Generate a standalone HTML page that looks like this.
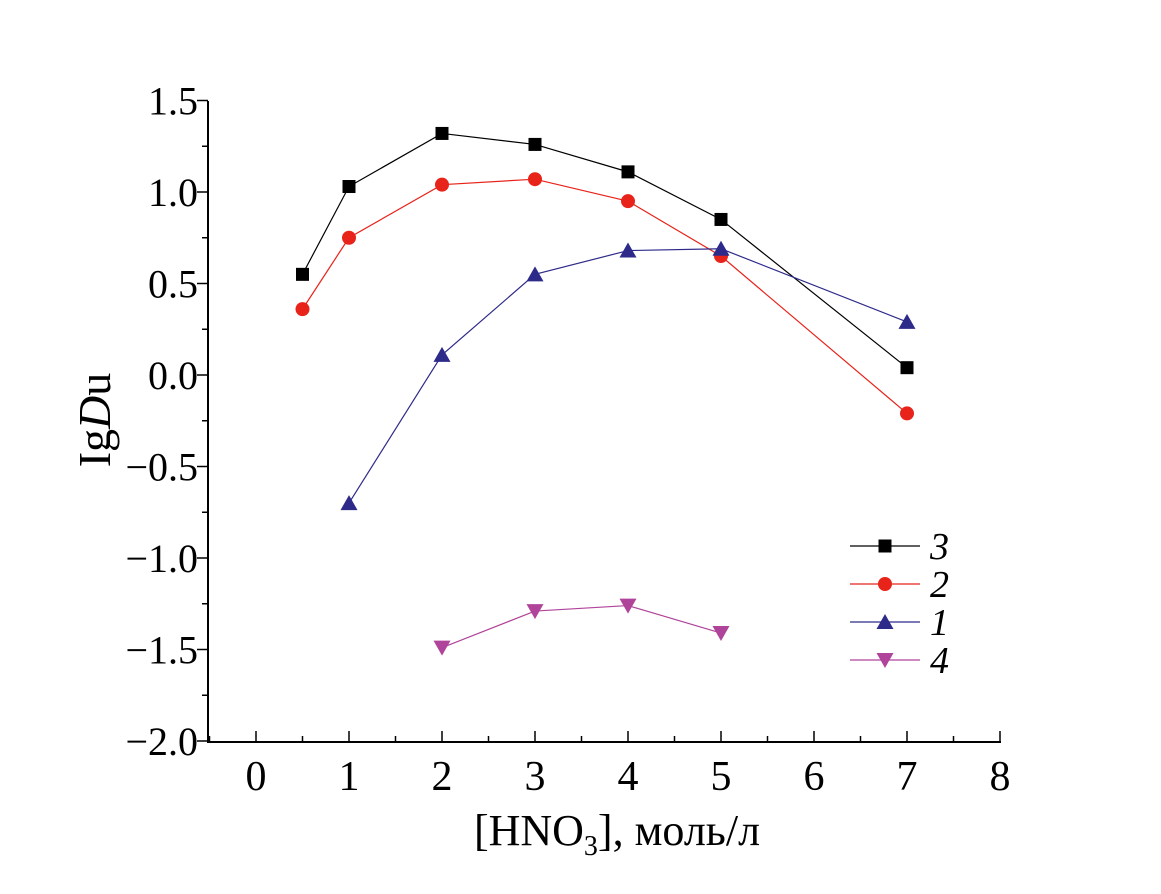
<!DOCTYPE html>
<html><head><meta charset="utf-8"><style>
html,body{margin:0;padding:0;background:#fff;}
svg text{font-family:"Liberation Serif","DejaVu Serif",serif;}
</style></head><body>
<svg id="chart" width="1161" height="889" xmlns="http://www.w3.org/2000/svg"></svg>
<script>
const xVals3=[0.5,1,2,3,4,5,7];
const yVals3=[0.55,1.03,1.32,1.26,1.11,0.85,0.04];
const xVals2=[0.5,1,2,3,4,5,7];
const yVals2=[0.36,0.75,1.04,1.07,0.95,0.65,-0.21];
const xVals1=[1,2,3,4,5,7];
const yVals1=[-0.70,0.11,0.55,0.68,0.69,0.29];
const xVals4=[2,3,4,5];
const yVals4=[-1.49,-1.29,-1.26,-1.41];
const xTicks=[0,1,2,3,4,5,6,7,8];
const yTicks=[1.5,1.0,0.5,0.0,-0.5,-1.0,-1.5,-2.0];
const yTickLabels=["1.5","1.0","0.5","0.0","\u22120.5","\u22121.0","\u22121.5","\u22122.0"];
const legendLabels=["3","2","1","4"];

const NS="http://www.w3.org/2000/svg";
const svg=document.getElementById('chart');
const X=v=>256+v*93;
const Y=v=>375-v*183;
function mk(t,a,p){const e=document.createElementNS(NS,t);for(const k in a)e.setAttribute(k,a[k]);(p||svg).appendChild(e);return e;}

let ax=mk('line',{x1:208,y1:101,x2:208,y2:742,stroke:'#000','stroke-width':2});


let bx=mk('line',{x1:207,y1:742,x2:1001,y2:742,stroke:'#000','stroke-width':2});


for(let v=-2;v<=1.5001;v+=0.25){
  const major=Math.abs(v*2-Math.round(v*2))<1e-6;
  mk('line',{x1:208,x2:208-(major?11:6),y1:Y(v),y2:Y(v),stroke:'#000','stroke-width':1.5});
}
yTicks.forEach((v,i)=>{
  const t=mk('text',{x:198,y:Y(v)+14,'text-anchor':'end','font-size':40});
  t.textContent=yTickLabels[i];
  
  
});
for(let v=-0.5;v<=8.0001;v+=0.5){
  const major=Math.abs(v-Math.round(v))<1e-6;
  mk('line',{x1:X(v),x2:X(v),y1:742,y2:742-(major?11:6),stroke:'#000','stroke-width':1.5});
}
xTicks.forEach(v=>{
  const t=mk('text',{x:X(v),y:790,'text-anchor':'middle','font-size':42});
  t.textContent=String(v);
  
  
});
let xt=mk('text',{x:617,y:845,'text-anchor':'middle','font-size':44});
xt.innerHTML='[HNO<tspan font-size="28" dy="10">3</tspan><tspan dy="-10">], моль/л</tspan>';


let yt=mk('text',{x:0,y:0,'text-anchor':'middle','font-size':46,transform:'translate(110,420) rotate(-90)'});
yt.innerHTML='Ig<tspan font-style="italic">D</tspan>u';



function marker(kind,cx,cy,color,g){
  if(kind==='sq') return mk('rect',{x:cx-6.5,y:cy-6.5,width:13,height:13,fill:color},g);
  if(kind==='ci') return mk('circle',{cx:cx,cy:cy,r:7,fill:color},g);
  if(kind==='up') return mk('polygon',{points:`${cx},${cy-8} ${cx-8.5},${cy+7} ${cx+8.5},${cy+7}`,fill:color},g);
  return mk('polygon',{points:`${cx},${cy+8} ${cx-8.5},${cy-7} ${cx+8.5},${cy-7}`,fill:color},g);
}
const series=[
 {xs:xVals3,ys:yVals3,c:'#000',line:'#000',k:'sq',n:'series-3'},
 {xs:xVals2,ys:yVals2,c:'#e8231a',line:'#e8231a',k:'ci',n:'series-2'},
 {xs:xVals1,ys:yVals1,c:'#2e2a8a',line:'#2e2a8a',k:'up',n:'series-1'},
 {xs:xVals4,ys:yVals4,c:'#b0449a',line:'#b0449a',k:'dn',n:'series-4'}
];
series.forEach((s,si)=>{
  const g=mk('g',{});
  
  
  const pl=mk('polyline',{points:s.xs.map((x,i)=>X(x)+','+Y(s.ys[i])).join(' '),fill:'none',stroke:s.line,'stroke-width':1.2},g);
  
  
  s.xs.forEach((x,i)=>{
    const m=marker(s.k,X(x),Y(s.ys[i]),s.c,g);
    
    
  });
  const ly=546+si*38;
  const lg=mk('g',{});
  
  
  mk('line',{x1:850,x2:920,y1:ly,y2:ly,stroke:s.line,'stroke-width':1.2},lg);
  marker(s.k,885,ly,s.c,lg);
  const t=mk('text',{x:930,y:ly+13,'font-size':38,'font-style':'italic'},lg);
  t.textContent=legendLabels[si];
});
</script>
</body></html>
